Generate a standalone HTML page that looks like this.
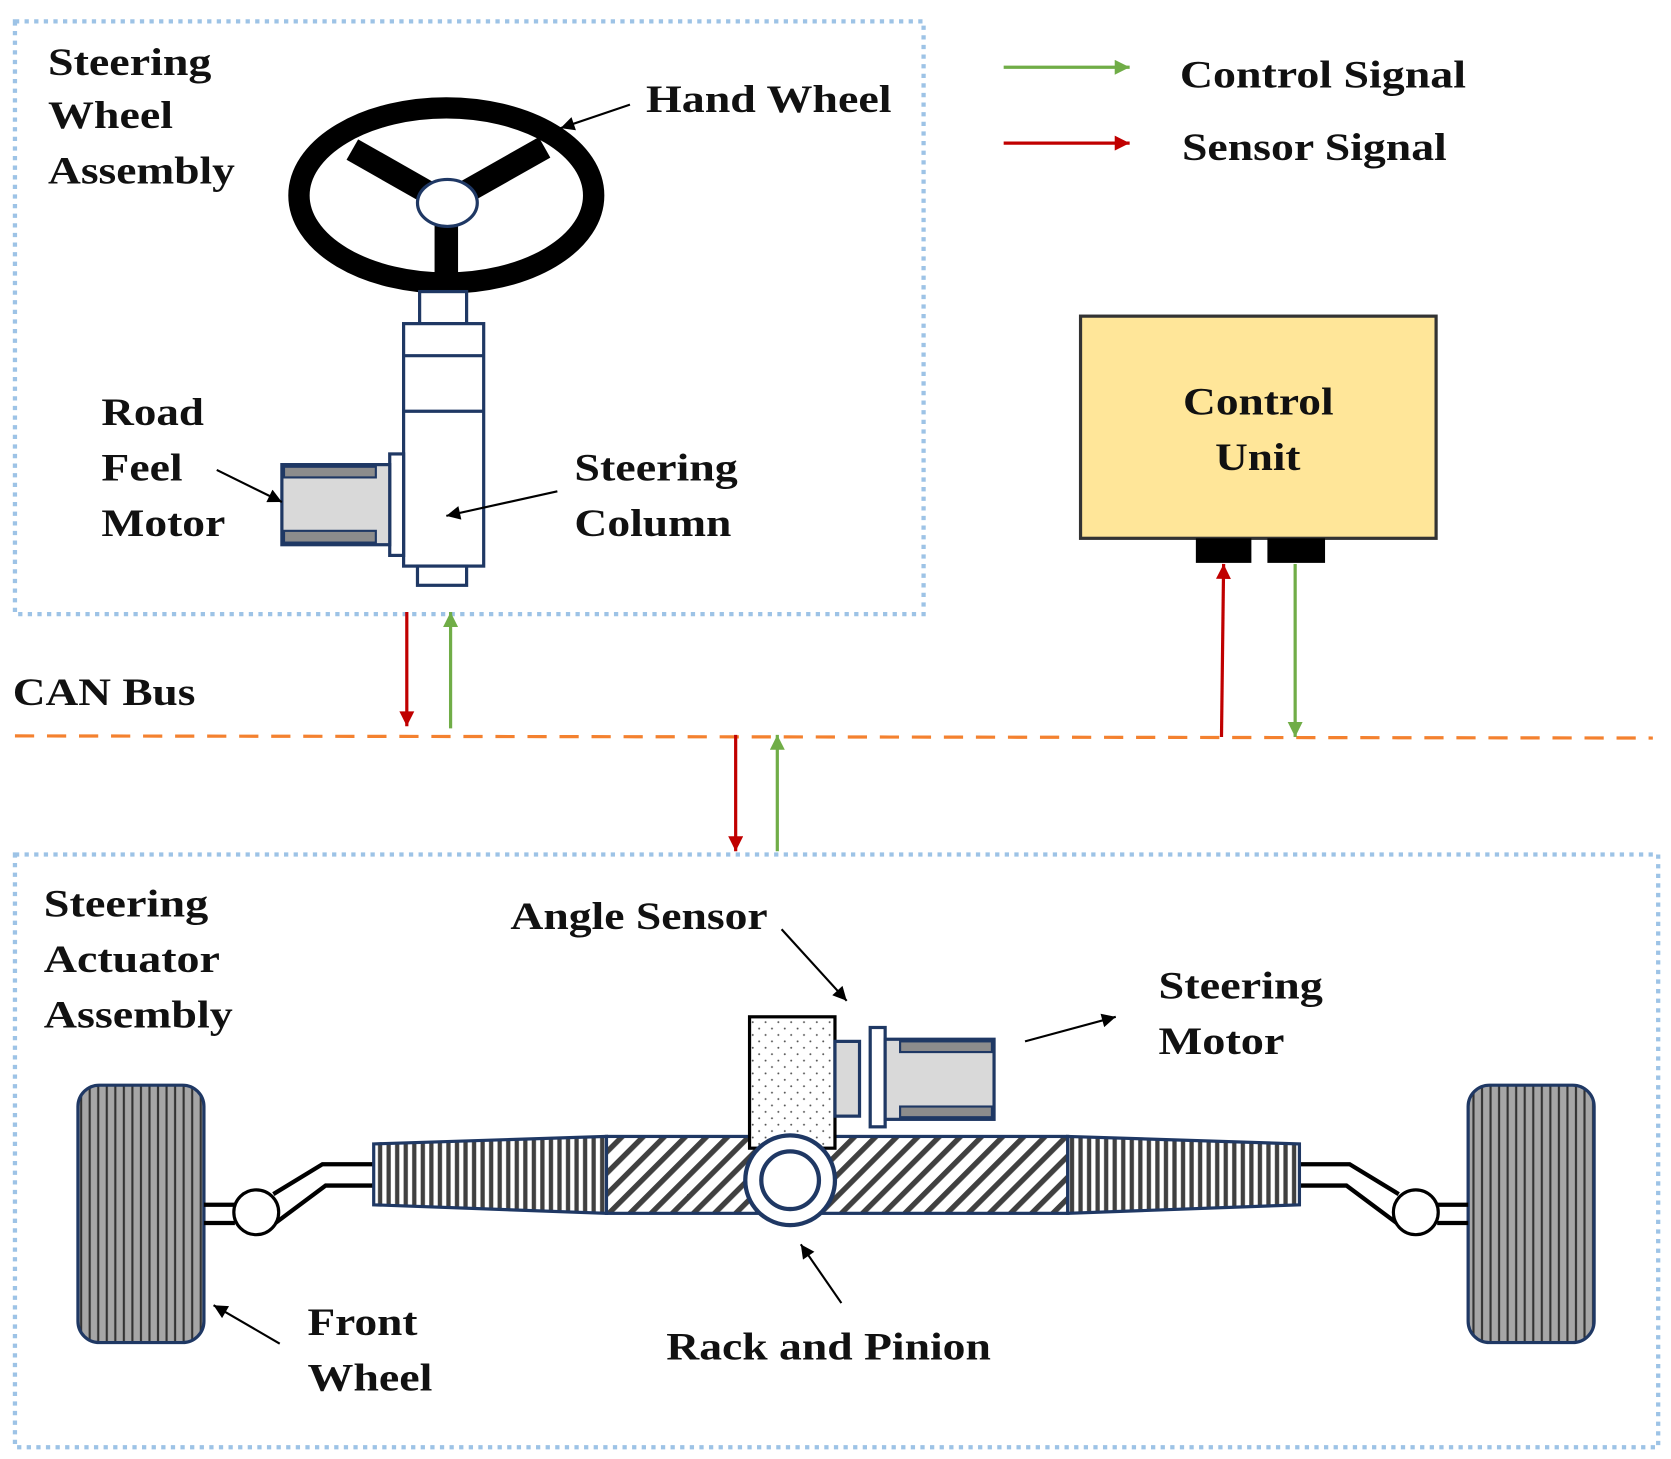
<!DOCTYPE html>
<html><head><meta charset="utf-8"><style>
html,body{margin:0;padding:0;background:#fff}
svg{display:block}
text{font-family:"Liberation Serif",serif;font-weight:bold;font-size:37px;fill:#111}
</style></head><body>
<svg width="1671" height="1459" viewBox="0 0 1565 1366" preserveAspectRatio="none" xmlns="http://www.w3.org/2000/svg">
<defs>
<marker id="ag2" viewBox="0 0 10 10" markerWidth="18" markerHeight="14" refX="10" refY="5" orient="auto" markerUnits="userSpaceOnUse"><path d="M0,0 L10,5 L0,10z" fill="#70ad47"/></marker>
<marker id="ar" viewBox="0 0 10 10" markerWidth="18" markerHeight="14" refX="10" refY="5" orient="auto" markerUnits="userSpaceOnUse"><path d="M0,0 L10,5 L0,10z" fill="#c00000"/></marker>
<marker id="ak" viewBox="0 0 10 10" markerWidth="16" markerHeight="13" refX="10" refY="5" orient="auto" markerUnits="userSpaceOnUse"><path d="M0,0 L10,5 L0,10z" fill="#000"/></marker>
<pattern id="vl" width="8" height="10" patternUnits="userSpaceOnUse"><rect width="8" height="10" fill="#fff"/><rect x="2" width="4" height="10" fill="#404040"/></pattern>
<pattern id="wl" width="8" height="10" patternUnits="userSpaceOnUse"><rect width="8" height="10" fill="#a6a6a6"/><rect x="3" width="2" height="10" fill="#333"/></pattern>
<pattern id="hh" width="14" height="14" patternUnits="userSpaceOnUse" patternTransform="rotate(45)"><rect width="14" height="14" fill="#fff"/><rect width="5" height="14" fill="#404040"/></pattern>
<pattern id="dt" width="12" height="12" patternUnits="userSpaceOnUse"><rect width="12" height="12" fill="#fff"/><circle cx="3" cy="3" r="0.9" fill="#555"/><circle cx="9" cy="9" r="0.9" fill="#555"/></pattern>
</defs>

<rect x="14" y="20" width="851" height="555" fill="none" stroke="#9dc3e6" stroke-width="4" stroke-dasharray="4,5"/>
<rect x="14" y="800" width="1539" height="555" fill="none" stroke="#9dc3e6" stroke-width="4" stroke-dasharray="4,5"/>
<line x1="14" y1="689" x2="1548" y2="691" stroke="#f4812f" stroke-width="3" stroke-dasharray="18,12"/>

<line x1="940" y1="63" x2="1058" y2="63" stroke="#70ad47" stroke-width="3" marker-end="url(#ag2)"/>
<line x1="940" y1="134" x2="1058" y2="134" stroke="#c00000" stroke-width="3" marker-end="url(#ar)"/>
<text x="1105" y="82" textLength="268" lengthAdjust="spacingAndGlyphs">Control Signal</text>
<text x="1107" y="150" textLength="248" lengthAdjust="spacingAndGlyphs">Sensor Signal</text>

<text x="45" y="70" textLength="153" lengthAdjust="spacingAndGlyphs">Steering</text>
<text x="45" y="120" textLength="117" lengthAdjust="spacingAndGlyphs">Wheel</text>
<text x="45" y="172" textLength="175" lengthAdjust="spacingAndGlyphs">Assembly</text>
<text x="605" y="105" textLength="230" lengthAdjust="spacingAndGlyphs">Hand Wheel</text>
<line x1="590" y1="98" x2="525" y2="120" stroke="#000" stroke-width="2" marker-end="url(#ak)"/>
<text x="95" y="398" textLength="96" lengthAdjust="spacingAndGlyphs">Road</text>
<text x="95" y="450" textLength="76" lengthAdjust="spacingAndGlyphs">Feel</text>
<text x="95" y="502" textLength="116" lengthAdjust="spacingAndGlyphs">Motor</text>
<text x="538" y="450" textLength="153" lengthAdjust="spacingAndGlyphs">Steering</text>
<text x="538" y="502" textLength="147" lengthAdjust="spacingAndGlyphs">Column</text>

<line x1="418" y1="190" x2="330" y2="140" stroke="#000" stroke-width="22"/>
<line x1="418" y1="190" x2="510" y2="138" stroke="#000" stroke-width="22"/>
<line x1="418" y1="190" x2="418" y2="264" stroke="#000" stroke-width="22"/>
<ellipse cx="418" cy="183" rx="138" ry="82" fill="none" stroke="#000" stroke-width="20"/>
<ellipse cx="419" cy="190" rx="28" ry="22" fill="#fff" stroke="#1f3864" stroke-width="3"/>
<g fill="#fff" stroke="#1f3864" stroke-width="3">
<rect x="393" y="273" width="44" height="30"/>
<rect x="378" y="303" width="75" height="227"/>
<line x1="378" y1="333" x2="453" y2="333"/><line x1="378" y1="385" x2="453" y2="385"/>
<rect x="391" y="530" width="46" height="18"/>
<rect x="365" y="425" width="13" height="95"/>
<rect x="264" y="435" width="101" height="75" fill="#d9d9d9"/>
</g>
<rect x="266" y="437" width="86" height="10" fill="#8c8c8c" stroke="#1f3864" stroke-width="2"/>
<rect x="266" y="497" width="86" height="11" fill="#8c8c8c" stroke="#1f3864" stroke-width="2"/>
<line x1="203" y1="440" x2="264" y2="470" stroke="#000" stroke-width="2" marker-end="url(#ak)"/>
<line x1="522" y1="460" x2="418" y2="483" stroke="#000" stroke-width="2" marker-end="url(#ak)"/>

<rect x="1012" y="296" width="333" height="208" fill="#ffe699" stroke="#333" stroke-width="3"/>
<text x="1108" y="388" textLength="141" lengthAdjust="spacingAndGlyphs">Control</text>
<text x="1138" y="440" textLength="80" lengthAdjust="spacingAndGlyphs">Unit</text>
<rect x="1120" y="504" width="52" height="23" fill="#000"/>
<rect x="1187" y="504" width="54" height="23" fill="#000"/>
<line x1="1144" y1="690" x2="1146" y2="528" stroke="#c00000" stroke-width="3" marker-end="url(#ar)"/>
<line x1="1213" y1="528" x2="1213" y2="690" stroke="#70ad47" stroke-width="3" marker-end="url(#ag2)"/>

<text x="12" y="660" textLength="171" lengthAdjust="spacingAndGlyphs">CAN Bus</text>
<line x1="381" y1="573" x2="381" y2="680" stroke="#c00000" stroke-width="3" marker-end="url(#ar)"/>
<line x1="422" y1="682" x2="422" y2="573" stroke="#70ad47" stroke-width="3" marker-end="url(#ag2)"/>
<line x1="689" y1="688" x2="689" y2="797" stroke="#c00000" stroke-width="3" marker-end="url(#ar)"/>
<line x1="728" y1="797" x2="728" y2="688" stroke="#70ad47" stroke-width="3" marker-end="url(#ag2)"/>

<text x="41" y="858" textLength="154" lengthAdjust="spacingAndGlyphs">Steering</text>
<text x="41" y="910" textLength="165" lengthAdjust="spacingAndGlyphs">Actuator</text>
<text x="41" y="962" textLength="177" lengthAdjust="spacingAndGlyphs">Assembly</text>
<text x="478" y="870" textLength="241" lengthAdjust="spacingAndGlyphs">Angle Sensor</text>
<line x1="732" y1="870" x2="793" y2="937" stroke="#000" stroke-width="2" marker-end="url(#ak)"/>
<text x="1085" y="935" textLength="154" lengthAdjust="spacingAndGlyphs">Steering</text>
<text x="1085" y="987" textLength="118" lengthAdjust="spacingAndGlyphs">Motor</text>
<line x1="960" y1="975" x2="1045" y2="952" stroke="#000" stroke-width="2" marker-end="url(#ak)"/>
<text x="288" y="1250" textLength="103" lengthAdjust="spacingAndGlyphs">Front</text>
<text x="288" y="1302" textLength="117" lengthAdjust="spacingAndGlyphs">Wheel</text>
<line x1="262" y1="1258" x2="200" y2="1222" stroke="#000" stroke-width="2" marker-end="url(#ak)"/>
<text x="624" y="1273" textLength="304" lengthAdjust="spacingAndGlyphs">Rack and Pinion</text>
<line x1="788" y1="1220" x2="750" y2="1165" stroke="#000" stroke-width="2" marker-end="url(#ak)"/>

<rect x="73" y="1016" width="118" height="241" rx="20" fill="url(#wl)" stroke="#1f3864" stroke-width="3"/>
<rect x="1375" y="1016" width="118" height="241" rx="20" fill="url(#wl)" stroke="#1f3864" stroke-width="3"/>

<g fill="none" stroke="#000" stroke-width="4">
<line x1="191" y1="1128" x2="220" y2="1128"/><line x1="191" y1="1145" x2="220" y2="1145"/>
<polyline points="350,1090 302,1090 256,1118"/><polyline points="350,1110 305,1110 258,1145"/>
<line x1="1375" y1="1128" x2="1346" y2="1128"/><line x1="1375" y1="1145" x2="1346" y2="1145"/>
<polyline points="1216,1090 1264,1090 1310,1118"/><polyline points="1216,1110 1261,1110 1308,1145"/>
<circle cx="240" cy="1135" r="21" fill="#fff" stroke-width="3"/>
<circle cx="1326" cy="1135" r="21" fill="#fff" stroke-width="3"/>
</g>

<polygon points="350,1071 568,1064 568,1136 350,1128" fill="url(#vl)" stroke="#1f3864" stroke-width="3"/>
<rect x="568" y="1064" width="432" height="72" fill="url(#hh)" stroke="#1f3864" stroke-width="3"/>
<polygon points="1000,1064 1217,1071 1217,1128 1000,1136" fill="url(#vl)" stroke="#1f3864" stroke-width="3"/>

<rect x="702" y="952" width="80" height="123" fill="url(#dt)" stroke="#000" stroke-width="3"/>
<g fill="#fff" stroke="#1f3864" stroke-width="3">
<rect x="782" y="975" width="23" height="70" fill="#d9d9d9"/>
<rect x="815" y="962" width="14" height="93"/>
<rect x="829" y="973" width="102" height="75" fill="#d9d9d9"/>
</g>
<rect x="843" y="975" width="86" height="10" fill="#8c8c8c" stroke="#1f3864" stroke-width="2"/>
<rect x="843" y="1036" width="86" height="10" fill="#8c8c8c" stroke="#1f3864" stroke-width="2"/>
<circle cx="740" cy="1105" r="42" fill="#fff" stroke="#1f3864" stroke-width="4"/>
<circle cx="740" cy="1105" r="27" fill="#fff" stroke="#1f3864" stroke-width="4"/>
</svg>
</body></html>
